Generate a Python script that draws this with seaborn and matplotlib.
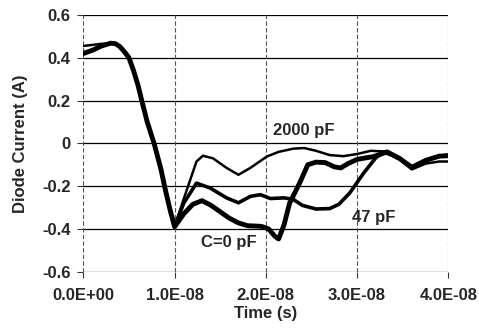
import matplotlib
matplotlib.use("Agg")
import matplotlib.pyplot as plt
import seaborn as sns
import pandas as pd
from matplotlib.ticker import FuncFormatter, FixedLocator

# time in units of 1e-8 s
t_c0 = [0, 0.1, 0.2, 0.3, 0.35, 0.4, 0.45, 0.5, 0.55, 0.6, 0.64, 0.7, 0.775, 0.85, 0.9, 0.95, 1.0,
        1.1, 1.2, 1.3, 1.4, 1.5, 1.6, 1.7, 1.8, 1.95, 2.03, 2.1, 2.14, 2.2, 2.26, 2.37, 2.46, 2.55,
        2.65, 2.75, 2.82, 2.9, 3.0, 3.18, 3.33, 3.47, 3.6, 3.75, 3.9, 4.0]
i_c0 = [0.42, 0.435, 0.455, 0.468, 0.466, 0.452, 0.428, 0.40, 0.34, 0.27, 0.2, 0.1, 0.0, -0.12, -0.22, -0.31, -0.39,
        -0.33, -0.285, -0.268, -0.29, -0.32, -0.35, -0.372, -0.385, -0.388, -0.40, -0.435, -0.447, -0.38, -0.28, -0.186, -0.1, -0.088,
        -0.09, -0.11, -0.115, -0.095, -0.075, -0.062, -0.04, -0.072, -0.112, -0.08, -0.06, -0.058]

t_47 = [0, 0.1, 0.2, 0.3, 0.35, 0.4, 0.45, 0.5, 0.55, 0.6, 0.64, 0.7, 0.775, 0.85, 0.9, 0.95, 1.0,
        1.1, 1.24, 1.39, 1.57, 1.7, 1.83, 1.94, 2.05, 2.2, 2.3, 2.4, 2.55, 2.7, 2.8, 2.92, 3.07,
        3.21, 3.3, 3.47, 3.6, 3.75, 3.9, 4.0]
i_47 = [0.42, 0.435, 0.455, 0.468, 0.466, 0.452, 0.428, 0.40, 0.34, 0.27, 0.2, 0.1, 0.0, -0.12, -0.22, -0.31, -0.39,
        -0.28, -0.186, -0.209, -0.255, -0.278, -0.248, -0.24, -0.258, -0.255, -0.262, -0.29, -0.307, -0.305, -0.285, -0.232, -0.14,
        -0.065, -0.042, -0.07, -0.115, -0.08, -0.06, -0.055]

t_2000 = [0, 0.1, 0.2, 0.3, 0.35, 0.4, 0.45, 0.5, 0.55, 0.6, 0.64, 0.7, 0.775, 0.85, 0.9, 0.95, 1.0,
          1.1, 1.24, 1.31, 1.42, 1.57, 1.7, 1.83, 2.01, 2.14, 2.3, 2.42, 2.55, 2.7, 2.85, 3.0,
          3.15, 3.3, 3.47, 3.6, 3.75, 3.9, 4.0]
i_2000 = [0.455, 0.46, 0.465, 0.468, 0.466, 0.452, 0.428, 0.40, 0.34, 0.27, 0.2, 0.1, 0.0, -0.12, -0.22, -0.31, -0.39,
          -0.26, -0.085, -0.058, -0.07, -0.115, -0.147, -0.115, -0.062, -0.04, -0.025, -0.022, -0.035, -0.055, -0.06, -0.05,
          -0.035, -0.038, -0.078, -0.122, -0.095, -0.085, -0.085]

series_names = ["C=0 pF", "47 pF", "2000 pF"]
x_ticks = [0, 1e-8, 2e-8, 3e-8, 4e-8]
y_ticks = [-0.6, -0.4, -0.2, 0, 0.2, 0.4, 0.6]
y_tick_labels = ["-0.6", "-0.4", "-0.2", "0", "0.2", "0.4", "0.6"]

sns.set_style("white")
plt.rcParams['font.family'] = ['Liberation Sans', 'DejaVu Sans']

fig = plt.figure(figsize=(4.79, 3.3), dpi=100)
ax = fig.add_axes([0.174, 0.1767, 0.762, 0.778])

data = {
    "C=0 pF": (t_c0, i_c0, 3.5),
    "47 pF": (t_47, i_47, 2.6),
    "2000 pF": (t_2000, i_2000, 1.8),
}
for name in ["2000 pF", "47 pF", "C=0 pF"]:
    t, i, lw = data[name]
    df = pd.DataFrame({"t": [v * 1e-8 for v in t], "i": i})
    sns.lineplot(data=df, x="t", y="i", ax=ax, color="black", lw=lw,
                 sort=False, estimator=None, zorder=3)

ax.set_xlim(0, 4e-8)
ax.set_ylim(-0.6, 0.6)
ax.xaxis.set_major_locator(FixedLocator(x_ticks))
ax.xaxis.set_major_formatter(FuncFormatter(lambda v, p: f"{v:.1E}"))
ax.set_yticks(y_ticks)
ax.set_yticklabels(y_tick_labels)

for y in y_ticks:
    ax.axhline(y, color="black", lw=0.9, zorder=1)
for x in x_ticks:
    ax.axvline(x, color="#555555", lw=0.8, ls=(0, (4, 2)), zorder=1)
for s in ax.spines.values():
    s.set_visible(False)

ax.tick_params(axis="both", which="major", length=4, width=0.8, color="#333333",
               direction="out", labelsize=12, bottom=True, left=True)
ax.tick_params(axis="x", pad=8)
ax.tick_params(axis="y", pad=5)
for lab in ax.get_xticklabels() + ax.get_yticklabels():
    lab.set_fontweight("bold")

ax.set_xlabel("Time (s)", fontsize=12, fontweight="bold", labelpad=2)
ax.set_ylabel("Diode Current (A)", fontsize=12, fontweight="bold", labelpad=10)

bbox = dict(facecolor="white", edgecolor="none", pad=1.5)
ax.text(2.41e-8, 0.06, "2000 pF", fontsize=12, fontweight="bold", ha="center", va="center", bbox=bbox, zorder=2)
ax.text(3.18e-8, -0.348, "47 pF", fontsize=12, fontweight="bold", ha="center", va="center", zorder=4)
ax.text(1.59e-8, -0.464, "C=0 pF", fontsize=12, fontweight="bold", ha="center", va="center", zorder=4)

fig.savefig("out.png", dpi=100)
